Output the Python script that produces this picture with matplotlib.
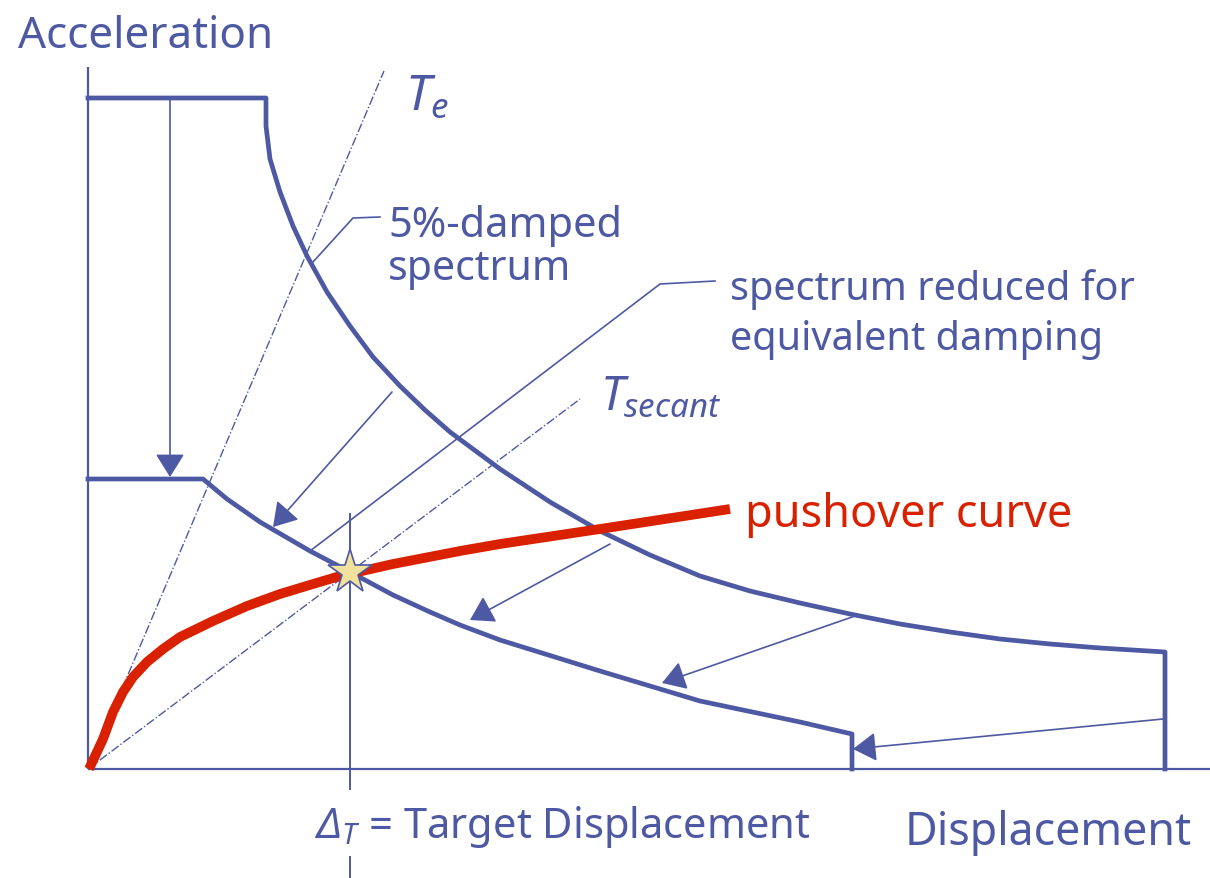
import matplotlib
matplotlib.use("Agg")
from matplotlib import pyplot as plt

# Capacity-spectrum diagram: acceleration vs displacement (arbitrary units)
plt.rcParams['font.family'] = ['Noto Sans', 'DejaVu Sans']
plt.rcParams['mathtext.fontset'] = 'custom'
# all math symbols here are italic, Greek capitals included
plt.rcParams['mathtext.rm'] = 'Noto Sans:italic'
plt.rcParams['mathtext.it'] = 'Noto Sans:italic'

blue = '#4E59A3'
red = '#D92100'
star_fill = '#F2E19C'

# 5%-damped elastic spectrum
spec5_d = [0, 178, 178, 182, 192, 205, 219, 239, 262, 285, 312, 337, 362, 412, 462,
           512, 562, 612, 662, 712, 762, 812, 862, 912, 962, 1012, 1077, 1077]
spec5_a = [671, 671, 643, 610, 577, 543, 513, 477, 443, 412, 383, 359, 337, 300, 267,
           238, 214, 193, 178, 166, 155, 145, 137, 130, 125, 121, 117, 0]

# spectrum reduced for equivalent damping
specr_d = [0, 115, 127, 139, 172, 222, 262, 305, 342, 372, 412, 512, 612, 712, 764, 764]
specr_a = [290, 290, 280, 270, 247, 218, 197, 174, 157, 144, 129, 98, 68, 47, 35, 0]

# pushover (capacity) curve
push_d = [1, 8, 15, 25, 35, 45, 59, 75, 92, 125, 159, 192, 225, 252, 305, 372, 412, 512, 642]
push_a = [0, 15, 30, 57, 77, 92, 107, 120, 132, 148, 163, 175, 185, 193, 205, 218, 225, 240, 260]

# performance point
target_d, target_a = 262, 197

# initial period line end
te_end = (296, 698)
tsec_end_d = 492

# reduction arrows (start -> end)
arrows = [((82, 671), (82, 292)),
          ((304, 377), (185, 242)),
          ((522, 225), (382, 149)),
          ((767, 153), (574, 86)),
          ((1075, 50), (765, 20))]

# leader lines
lead5_d = [292, 265, 225]
lead5_a = [552, 551, 507]
leadr_d = [627, 572, 222]
leadr_a = [488, 485, 218]

fig = plt.figure(figsize=(12.1, 8.79), dpi=100)
ax = fig.add_axes([0, 0, 1, 1])
ax.set_xlim(-88, 1122)
ax.set_ylim(-109, 770)
ax.axis('off')

# axes
ax.plot([0, 0], [0, 702], color=blue, lw=1.6, solid_capstyle='butt')
ax.plot([0, 1122], [0, 0], color=blue, lw=1.6, solid_capstyle='butt')

# period lines
ax.plot([0, te_end[0]], [0, te_end[1]], color=blue, lw=1.0, linestyle='-.')
ax.plot([0, tsec_end_d], [0, target_a / target_d * tsec_end_d],
        color=blue, lw=1.0, linestyle='-.')

# spectra
ax.plot(spec5_d, spec5_a, color=blue, lw=3.4, solid_joinstyle='round')
ax.plot(specr_d, specr_a, color=blue, lw=3.4, solid_joinstyle='round')

# arrows and leaders
for (x0, y0), (x1, y1) in arrows:
    ax.annotate('', xy=(x1, y1), xytext=(x0, y0),
                arrowprops=dict(arrowstyle='-|>,head_length=0.4,head_width=0.25',
                                mutation_scale=36, lw=1.2, color=blue,
                                shrinkA=0, shrinkB=0))
ax.plot(lead5_d, lead5_a, color=blue, lw=1.2)
ax.plot(leadr_d, leadr_a, color=blue, lw=1.2)

# target displacement marker line
ax.plot([target_d, target_d], [255, -20], color=blue, lw=1.4)
ax.plot([target_d, target_d], [-88, -109], color=blue, lw=1.4)

# pushover curve
ax.plot(push_d, push_a, color=red, lw=7, solid_capstyle='butt',
        solid_joinstyle='round', zorder=4)
ax.plot(target_d, target_a, marker='*', markersize=33, markerfacecolor=star_fill,
        markeredgecolor=blue, markeredgewidth=1.2, zorder=5)

# labels
ax.text(-70, 722, 'Acceleration', color=blue, fontsize=31.7, va='baseline')
ax.text(817, -75, 'Displacement', color=blue, fontsize=32.2, va='baseline')
ax.text(300, 533, '5%-damped', color=blue, fontsize=30, va='baseline')
ax.text(300, 490, 'spectrum', color=blue, fontsize=29.5, va='baseline')
ax.text(642, 470, 'spectrum reduced for', color=blue, fontsize=28.6, va='baseline')
ax.text(642, 420, 'equivalent damping', color=blue, fontsize=28.6, va='baseline')
ax.text(657, 243, 'pushover curve', color=red, fontsize=32.4, va='baseline')
ax.text(317, 660, r'$T_e$', color=blue, fontsize=36, va='baseline')
ax.text(512, 360, r'$T_{secant}$', color=blue, fontsize=34, va='baseline')
ax.text(227, -68, r'$\Delta_T$ = Target Displacement', color=blue,
        fontsize=30, va='baseline')

fig.savefig('out.png', dpi=100)
